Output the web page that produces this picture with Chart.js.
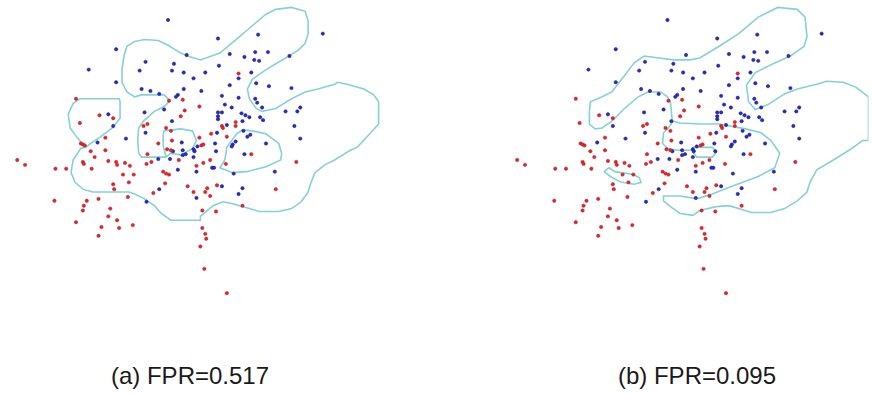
<!DOCTYPE html>
<html>
<head>
<meta charset="utf-8">
<script src="https://cdn.jsdelivr.net/npm/chart.js@4.4.1/dist/chart.umd.min.js"></script>
<style>
  html, body { margin: 0; padding: 0; background: #ffffff; }
  #wrap { position: relative; width: 873px; height: 394px; overflow: hidden; }
  canvas { position: absolute; top: 0; }
  #panel-a { left: 0; }
  #panel-b { left: 500px; }
  .caption {
    position: absolute; top: 362px;
    font: 24px "Liberation Sans", sans-serif; color: #1a1a1a;
    white-space: nowrap; transform: translateX(-50%);
  }
</style>
</head>
<body>
<div id="wrap">
  <canvas id="panel-a" width="436" height="320"></canvas>
  <canvas id="panel-b" width="373" height="320"></canvas>
  <div class="caption" id="cap-a" style="left:190px">(a) FPR=0.517</div>
  <div class="caption" id="cap-b" style="left:697px">(b) FPR=0.095</div>
</div>
<script>
// Samples (same for both panels), feature space in plot units, y grows downward
const positives = [
  [167,16],[218,35],[259,31],[325,30],[114,46],[186,52],[230,51],[256,49],[269,49],[245,54],
  [255,57],[260,58],[291,53],[144,59],[173,61],[219,63],[86,67],[138,68],[171,68],[183,70],
  [205,70],[252,70],[193,76],[239,76],[114,80],[257,81],[230,83],[270,84],[293,86],[140,87],
  [183,87],[149,89],[201,89],[158,92],[177,93],[175,95],[222,94],[239,96],[256,97],[258,101],
  [225,103],[232,106],[263,106],[163,108],[287,110],[299,110],[302,106],[143,111],[106,113],[218,111],
  [222,111],[218,115],[218,118],[242,112],[246,114],[250,116],[261,116],[264,119],[243,120],[171,120],
  [227,124],[111,125],[296,125],[144,132],[217,132],[244,130],[251,134],[248,136],[124,138],[302,138],
  [181,142],[95,142],[215,143],[236,141],[233,144],[232,146],[267,143],[197,146],[193,149],[182,150],
  [194,151],[216,151],[185,154],[182,155],[245,154],[157,159],[169,159],[193,157],[212,168],[214,168],
  [177,170],[196,172],[234,174],[276,172],[158,190],[222,187],[243,189],[239,195],[196,199],[145,203],
  [172,151]
];
const negatives = [
  [73,97],[168,99],[182,98],[199,105],[184,109],[97,114],[111,117],[180,115],[77,122],[146,123],
  [142,125],[165,127],[170,130],[211,133],[199,137],[103,137],[171,140],[157,143],[78,143],[80,144],
  [82,145],[203,144],[166,149],[170,150],[88,151],[103,150],[146,154],[92,157],[13,160],[21,165],
  [80,162],[81,164],[106,161],[114,162],[115,165],[123,163],[128,166],[52,169],[63,169],[89,169],
  [121,175],[132,175],[145,164],[150,162],[178,160],[203,163],[210,160],[196,166],[162,172],[165,174],
  [168,175],[164,184],[111,185],[127,183],[112,190],[187,187],[193,193],[207,189],[205,193],[210,197],
  [217,186],[152,194],[126,198],[96,200],[51,202],[84,202],[81,207],[80,212],[108,210],[202,212],
  [216,213],[106,218],[115,222],[73,224],[131,227],[99,229],[117,230],[96,238],[202,230],[205,236],
  [206,241],[200,249],[204,272],[227,297],[239,71],[236,121],[236,125],[222,125],[223,127],[227,136],
  [252,154],[298,162],[226,164],[277,190],[243,207],[201,145]
];

// Decision boundary (a): high false-positive classifier
const boundaryA = [
  [
    [125,43],[133,38],[143,36],[157,37],[167,42],[180,50],[187,53],[200,57],[220,50],[240,33],
    [247,27],[267,10],[277,5],[293,3],[307,7],[310,17],[310,30],[307,40],[300,47],[287,55],
    [267,67],[253,77],[248,87],[250,97],[257,107],[263,110],[277,107],[293,97],[307,90],[320,87],
    [337,82],[340,80],[350,82],[367,87],[377,93],[382,100],[382,123],[373,133],[360,147],[353,150],
    [337,160],[327,165],[317,173],[313,183],[310,193],[303,203],[293,210],[280,213],[260,213],[250,210],
    [233,205],[223,203],[213,207],[200,218],[200,222],[170,222],[160,215],[153,207],[143,200],[133,195],
    [127,193],[90,193],[80,190],[72,183],[68,173],[70,160],[78,148],[83,147]
  ],
  [
    [83,147],[88,143],[97,137],[110,127],[118,117],[118,100],[117,97],[77,97],[70,102],[65,113],
    [67,127],[75,138],[83,147]
  ],
  [
    [125,43],[122,53],[120,67],[120,80],[125,90],[133,95],[140,93],[163,93],[167,97],[168,100],
    [163,105],[153,110],[142,120],[137,127],[136,140],[137,153],[140,157],[165,157]
  ],
  [
    [165,157],[162,145],[162,135],[163,130],[180,128],[192,130],[196,140],[192,148],[180,155],[170,153],
    [165,157]
  ],
  [
    [225,160],[227,147],[237,133],[243,129],[253,130],[267,133],[280,143],[283,153],[282,160],[267,167],
    [247,172],[233,173],[220,168],[225,160]
  ]
];

// Decision boundary (b): low false-positive classifier
const boundaryB = [
  [
    [87,110],[88,100],[100,95],[110,90],[123,73],[133,60],[143,53],[173,57],[190,57],[200,55],
    [220,43],[240,30],[260,13],[280,3],[300,5],[308,13],[310,33],[307,43],[293,53],[273,62],
    [257,70],[248,83],[250,100],[257,108],[270,103],[287,92],[300,87],[320,82],[330,79],[347,80],
    [360,85],[373,95],[373,140],[367,140],[353,150],[337,160],[320,170],[313,183],[310,193],[300,202],
    [287,210],[273,214],[253,214],[240,210],[230,207],[217,208],[200,212],[193,217],[180,215],[170,208],
    [163,202],[163,197],[180,197],[197,200],[213,195],[233,187],[260,177],[277,168],[282,153],[273,140],
    [263,132],[247,128],[220,123],[200,123],[180,122],[172,120],[170,100],[167,95],[160,90],[147,90],
    [137,95],[123,107],[110,120],[100,127],[93,128],[87,123],[87,110]
  ],
  [
    [172,121],[168,127],[163,132],[162,143],[167,148],[177,150],[193,150]
  ],
  [
    [193,147],[213,147],[217,152],[213,157],[197,157],[193,152],[193,147]
  ],
  [
    [102,172],[107,168],[113,172],[120,173],[132,175],[138,178],[140,183],[133,185],[120,183],[110,178],
    [102,172]
  ]
];

const toXY = pts => pts.map(p => ({ x: p[0], y: p[1] }));

function makePanel(id, width, boundary) {
  const lineSets = boundary.map(seg => ({
    data: toXY(seg),
    showLine: true,
    borderColor: "#86d2d2",
    borderWidth: 1.6,
    pointRadius: 0,
    tension: 0,
    fill: false,
    order: 2,
  }));

  return new Chart(document.getElementById(id), {
    type: "scatter",
    data: {
      datasets: [
        {
          data: toXY(negatives),
          backgroundColor: "#e2262b",
          borderColor: "#b0202a",
          borderWidth: 0.5,
          pointRadius: 1.7,
          order: 0,
        },
        {
          data: toXY(positives),
          backgroundColor: "#2a2ac0",
          borderColor: "#1c1c8a",
          borderWidth: 0.5,
          pointRadius: 1.7,
          order: 0,
        },
        ...lineSets,
      ],
    },
    options: {
      responsive: false,
      animation: false,
      layout: { padding: 0 },
      scales: {
        x: { type: "linear", min: 0, max: width, display: false },
        y: { type: "linear", min: 0, max: 320, reverse: true, display: false },
      },
      plugins: {
        legend: { display: false },
        tooltip: { enabled: false },
      },
    },
  });
}

makePanel("panel-a", 436, boundaryA);
makePanel("panel-b", 373, boundaryB);
</script>
</body>
</html>
